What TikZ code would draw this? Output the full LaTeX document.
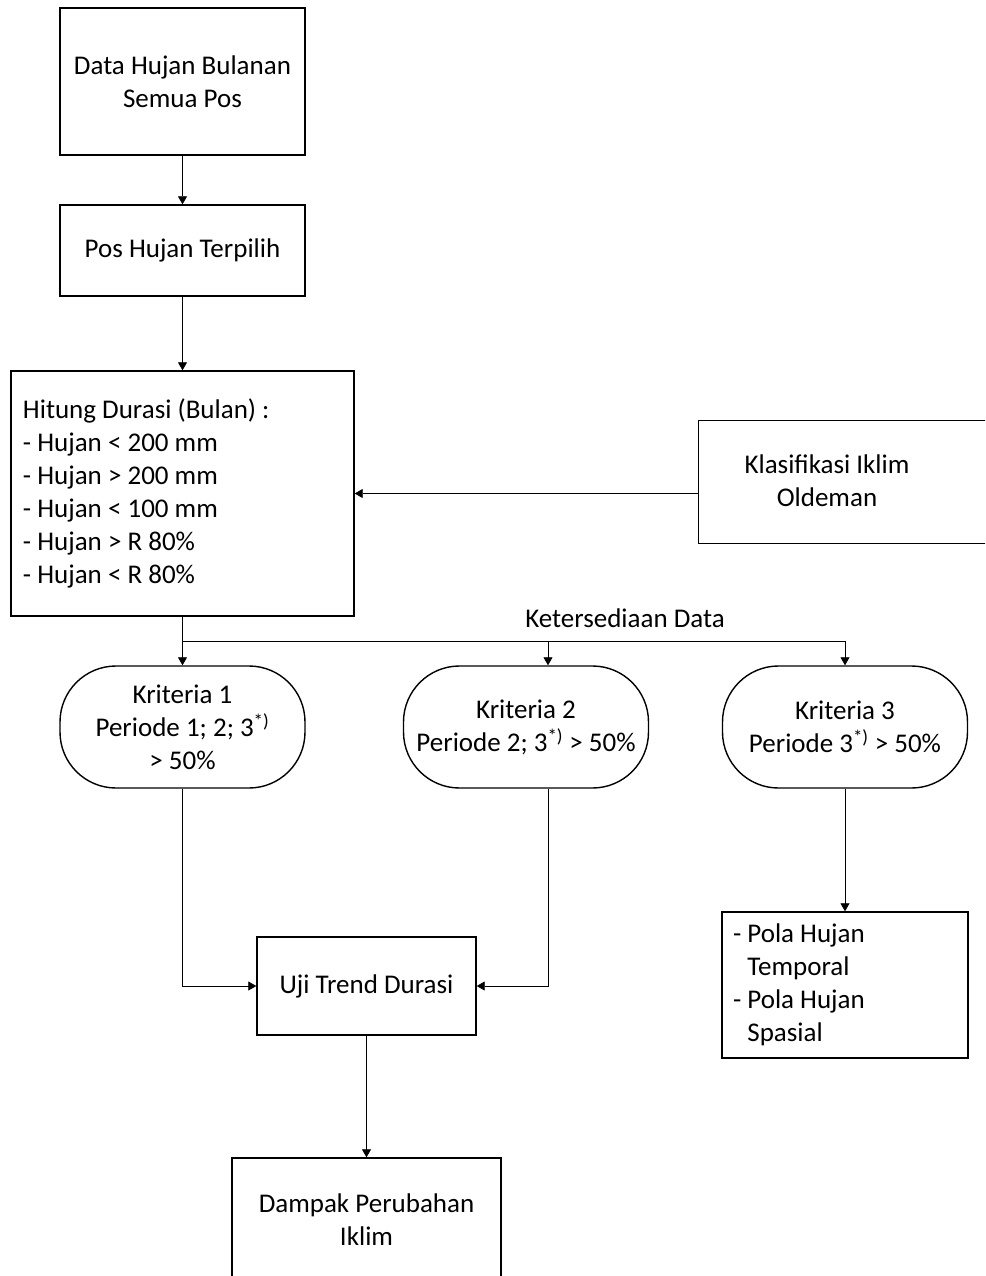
\documentclass[tikz,border=0pt]{standalone}
\usepackage{fontspec}
\setmainfont{Carlito}
\usetikzlibrary{arrows.meta,positioning,calc}

\begin{document}
\begin{tikzpicture}[x=1pt,y=-1pt,>={Triangle[width=9pt,length=8pt]},
  every node/.style={font=\fontsize{27}{33}\selectfont},
  box/.style={draw,line width=1.4pt,align=center,inner sep=0pt},
  krit/.style={box,rounded corners=56pt,minimum width=245pt,minimum height=122pt},
  conn/.style={line width=0.8pt}]
  \useasboundingbox (0,0) rectangle (985,1276);
  \clip (0,0) rectangle (985,1276);

  % boxes of the main column
  \node[box,minimum width=245pt,minimum height=147pt] (data) at (182.5,81.5)
    {Data Hujan Bulanan\\Semua Pos};
  \node[box,minimum width=245pt,minimum height=91pt] (pos) at (182.5,250.5)
    {Pos Hujan Terpilih};
  \node[box,align=flush left,text width=319pt,inner xsep=12pt,minimum height=245pt] (hitung) at (182.5,493.5)
    {Hitung Durasi (Bulan) :\\- Hujan < 200 mm\\- Hujan > 200 mm\\- Hujan < 100 mm\\- Hujan > R 80\%\\- Hujan < R 80\%};
  \node[box,minimum width=310pt,minimum height=123pt,anchor=north west] (klas) at (698,420) {};
  \node[align=center] (klastext) at (827,481) {Klasifikasi Iklim\\Oldeman};

  % criteria
  \node[krit] (k1) at (182.5,727) {Kriteria 1\\Periode 1; 2; 3\textsuperscript{*)}\\> 50\%};
  \node[krit] (k2) at (526,727) {Kriteria 2\\Periode 2; 3\textsuperscript{*)} > 50\%};
  \node[krit] (k3) at (845,727) {Kriteria 3\\Periode 3\textsuperscript{*)} > 50\%};
  \node (ket) at (625,618) {Ketersediaan Data};
  \coordinate (split) at (182.5,641);

  \node[box,minimum width=219pt,minimum height=98pt] (uji) at (366.5,986) {Uji Trend Durasi};
  \node[box,minimum width=269pt,minimum height=123pt] (dampak) at (366.5,1219.5)
    {Dampak Perubahan\\Iklim};
  \node[box,align=flush left,text width=224pt,inner xsep=11pt,minimum height=146pt] (pola) at (845,985)
    {- Pola Hujan\\\phantom{-\ }Temporal\\- Pola Hujan\\\phantom{-\ }Spasial};

  % connectors
  \draw[conn,->] (data) -- (pos);
  \draw[conn,->] (pos) -- (hitung);
  \draw[conn,->] (hitung.east -| klas.west) -- (hitung.east);
  \draw[conn,->] (hitung.south) -- (k1.north);
  \draw[conn,->] (split) -| ([xshift=22pt]k2.north);
  \draw[conn,->] (split) -| (k3.north);
  \draw[conn,->] (k1.south) |- (uji.west);
  \draw[conn,->] ([xshift=22pt]k2.south) |- (uji.east);
  \draw[conn,->] (uji) -- (dampak);
  \draw[conn,->] (k3) -- (pola);
\end{tikzpicture}
\end{document}
